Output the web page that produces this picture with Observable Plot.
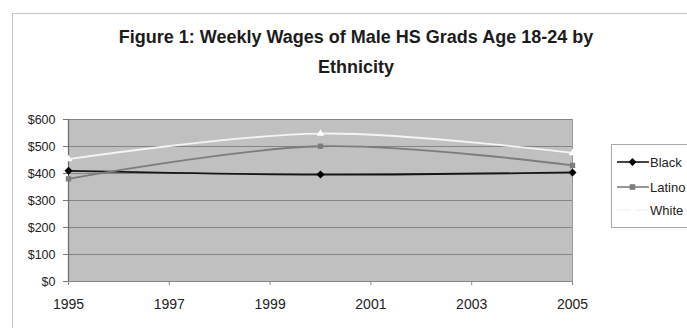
<!DOCTYPE html>
<html>
<head>
<meta charset="utf-8">
<script src="https://cdn.jsdelivr.net/npm/d3@7"></script>
<script src="https://cdn.jsdelivr.net/npm/@observablehq/plot@0.6"></script>
<style>
  body { margin: 0; background: #fff; font-family: "Liberation Sans", Arial, sans-serif; }
  #wrap { position: relative; width: 687px; height: 328px; overflow: hidden; }
  #border { position: absolute; left: 12px; top: 13px; width: 720px; height: 340px; border: 1px solid #c4c4c4; }
  #title { position: absolute; left: 0; width: 712px; top: 22px; text-align: center;
           font-weight: bold; font-size: 18px; line-height: 30px; color: #1c1c1c; }
  #chart { position: absolute; left: 0; top: 0; }
  #legend { position: absolute; left: 611px; top: 144px; width: 120px; height: 82px;
            border: 1px solid #a8a8a8; background: #fff; font-size: 13px; color: #222; }
  .entry { position: absolute; left: 5px; height: 16px; display: flex; align-items: center; }
  .entry svg { margin-right: 1px; }
</style>
</head>
<body>
<div id="wrap">
  <div id="border"></div>
  <div id="title">Figure 1: Weekly Wages of Male HS Grads Age 18-24 by<br>Ethnicity</div>
  <div id="chart"></div>
  <div id="legend"></div>
</div>
<script>
// Weekly wages (USD) by year
const years = [1995, 2000, 2005];
const black = [410, 396, 404];
const latino = [380, 501, 430];
const white = [453, 548, 476];

const seriesNames = ["Black", "Latino", "White"];
const seriesValues = [black, latino, white];

const yTicks = [0, 100, 200, 300, 400, 500, 600];
const xTicks = [1995, 1997, 1999, 2001, 2003, 2005];

const styles = {
  Black:  { stroke: "#161616", fill: "#000000", symbol: "diamond2", r: 3.6 },
  Latino: { stroke: "#7c7c7c", fill: "#7c7c7c", symbol: "square2",  r: 3.4 },
  White:  { stroke: "#f4f4f4", fill: "#ffffff", symbol: "triangle2", r: 3.6 }
};

const rows = seriesNames.flatMap((name, i) =>
  years.map((year, j) => ({ series: name, year, wage: seriesValues[i][j] }))
);

const marks = [
  Plot.frame({ fill: "#c0c0c0", stroke: "none" }),
  Plot.gridY(yTicks, { stroke: "#858585", strokeOpacity: 1, strokeWidth: 1.2 }),
  Plot.ruleX([1995], { stroke: "#6a6a6a", strokeWidth: 1.2 }),
  Plot.ruleX([2005], { stroke: "#9a9a9a" }),
  Plot.axisY({ ticks: yTicks, tickFormat: d => "$" + d, tickSize: 5, tickPadding: 8,
               fontSize: 12.5, stroke: "#777", label: null }),
  Plot.axisX({ ticks: xTicks, tickFormat: d => String(d), tickSize: 4, tickPadding: 14,
               fontSize: 14, stroke: "#888", label: null })
];

for (const name of seriesNames) {
  const s = styles[name];
  const data = rows.filter(d => d.series === name);
  marks.push(Plot.line(data, { x: "year", y: "wage", stroke: s.stroke, strokeWidth: 1.8, curve: "catmull-rom" }));
  marks.push(Plot.dot(data, { x: "year", y: "wage", symbol: () => s.symbol, r: s.r, fill: s.fill, stroke: "none" }));
}

const chart = Plot.plot({
  width: 687,
  height: 328,
  marginLeft: 68,
  marginRight: 115,
  marginTop: 119,
  marginBottom: 47,
  style: { fontFamily: "'Liberation Sans', Arial, sans-serif", color: "#222", background: "transparent" },
  x: { domain: [1995, 2005] },
  y: { domain: [0, 600] },
  marks
});
document.getElementById("chart").appendChild(chart);

// Legend
const legend = document.getElementById("legend");
const sym = { Black: d3.symbolDiamond2, Latino: d3.symbolSquare2, White: d3.symbolTriangle2 };
seriesNames.forEach((name, i) => {
  const s = styles[name];
  const e = document.createElement("div");
  e.className = "entry";
  e.style.top = [9, 34, 57][i] + "px";
  const svg = d3.create("svg").attr("width", 32).attr("height", 16);
  svg.append("line").attr("x1", 0).attr("x2", 32).attr("y1", 8).attr("y2", 8)
    .attr("stroke", s.stroke).attr("stroke-width", 1.6);
  svg.append("path").attr("transform", "translate(15.5,8)")
    .attr("d", d3.symbol(sym[name], 40)()).attr("fill", s.fill);
  e.appendChild(svg.node());
  const t = document.createElement("span");
  t.textContent = name;
  e.appendChild(t);
  legend.appendChild(e);
});
</script>
</body>
</html>
